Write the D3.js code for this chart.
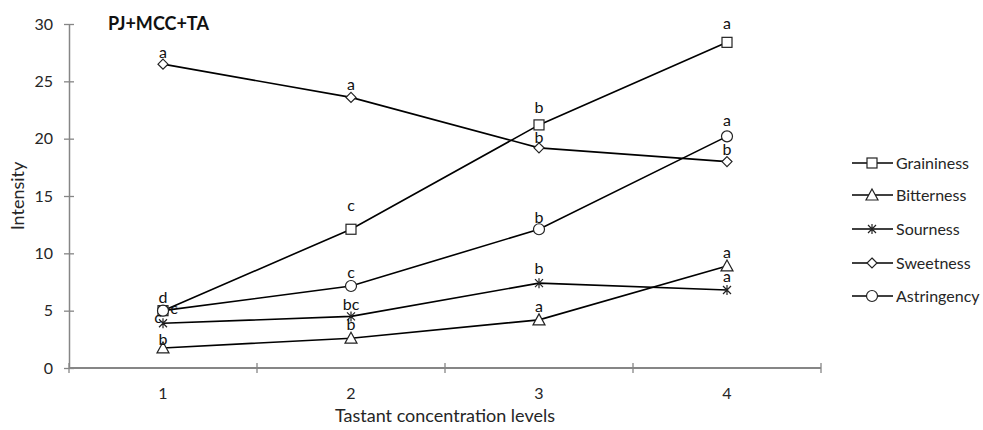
<!DOCTYPE html>
<html>
<head>
<meta charset="utf-8">
<script src="https://cdn.jsdelivr.net/npm/d3@7"></script>
<style>
  body { margin: 0; background: #fff; }
  svg text { font-family: Lato, "Open Sans", sans-serif; }
</style>
</head>
<body>
<svg id="chart" width="983" height="430"></svg>
<script>
// Tastant concentration levels (x categories)
const levels = ["1", "2", "3", "4"];
const yTicks = [0, 5, 10, 15, 20, 25, 30];

// Mean intensity per attribute
const graininess  = [5.0, 12.1, 21.2, 28.4];
const bitterness  = [1.75, 2.6, 4.2, 8.9];
const sourness    = [3.9, 4.5, 7.4, 6.8];
const sweetness   = [26.5, 23.6, 19.2, 18.0];
const astringency = [5.0, 7.15, 12.1, 20.2];

// Significance letters
const grainLetters  = ["d", "c", "b", "a"];
const bitterLetters = ["b", "b", "a", "a"];
const sourLetters   = ["c", "bc", "b", "a"];
const sweetLetters  = ["a", "a", "b", "b"];
const astrLetters   = ["c", "c", "b", "a"];

const series = [
  { name: "Graininess",  values: graininess,  letters: grainLetters,  marker: "square" },
  { name: "Bitterness",  values: bitterness,  letters: bitterLetters, marker: "triangle" },
  { name: "Sourness",    values: sourness,    letters: sourLetters,   marker: "star" },
  { name: "Sweetness",   values: sweetness,   letters: sweetLetters,  marker: "diamond" },
  { name: "Astringency", values: astringency, letters: astrLetters,   marker: "circle" }
];

// letter placement relative to each marker: [dx, baseline dy] per level
const labelPlacement = {
  "Graininess":  [[0, -8], [0, -18], [0, -12], [0, -13]],
  "Bitterness":  [[0, -3], [0, -8], [0, -8], [0, -8]],
  "Sourness":    [[-5, 0], [0, -6], [0, -9], [0, -8]],
  "Sweetness":   [[0, -6], [0, -7], [0, -5], [0, -7]],
  "Astringency": [[11, 3], [0, -8], [0, -6], [0, -10]]
};

const svg = d3.select("#chart");
const margin = { left: 69, right: 821, top: 24, bottom: 368 };

const x = d3.scaleBand().domain(levels).range([margin.left, margin.right]);
const y = d3.scaleLinear().domain([0, 30]).range([margin.bottom, margin.top]);
const cx = d => x(d) + x.bandwidth() / 2;

const axisColor = "#868686";
const textColor = "#262626";

// Y axis with crossing tick marks
const yAxis = svg.append("g")
  .attr("transform", `translate(${margin.left},0)`)
  .call(d3.axisLeft(y).tickValues(yTicks).tickSizeInner(5).tickSizeOuter(0).tickPadding(11));
yAxis.select(".domain").attr("stroke", axisColor).attr("stroke-width", 1.5);
yAxis.selectAll(".tick line").attr("stroke", axisColor).attr("stroke-width", 1.3).attr("x1", 5);
yAxis.selectAll(".tick text").attr("font-size", 16).attr("fill", textColor);

// X axis: tick marks at category boundaries
const xAxisG = svg.append("g").attr("transform", `translate(0,${margin.bottom})`);
xAxisG.append("line")
  .attr("x1", margin.left).attr("x2", margin.right)
  .attr("stroke", axisColor).attr("stroke-width", 2);
const bounds = levels.map(d => x(d)).concat([margin.right]);
xAxisG.selectAll("line.tk").data(bounds).join("line")
  .attr("class", "tk")
  .attr("x1", d => d).attr("x2", d => d).attr("y1", -5).attr("y2", 5)
  .attr("stroke", axisColor).attr("stroke-width", 1.3);
xAxisG.selectAll("text").data(levels).join("text")
  .attr("x", d => cx(d)).attr("y", 31)
  .attr("text-anchor", "middle").attr("font-size", 16).attr("fill", textColor)
  .text(d => d);

// Axis titles
svg.append("text")
  .attr("transform", `translate(24,${(margin.top + margin.bottom) / 2}) rotate(-90)`)
  .attr("text-anchor", "middle").attr("font-size", 18).attr("fill", textColor)
  .text("Intensity");
svg.append("text")
  .attr("x", (margin.left + margin.right) / 2).attr("y", 422)
  .attr("text-anchor", "middle").attr("font-size", 18).attr("fill", textColor)
  .text("Tastant concentration levels");

// Panel title
svg.append("text")
  .attr("x", 108).attr("y", 30)
  .attr("font-size", 18).attr("font-weight", "bold").attr("fill", "#111")
  .text("PJ+MCC+TA");

// Marker drawing
function drawMarker(g, type, px, py) {
  const st = { fill: "#fff", stroke: "#222", "stroke-width": 1.2 };
  let el;
  if (type === "square") {
    el = g.append("rect").attr("x", px - 5).attr("y", py - 5).attr("width", 10).attr("height", 10);
  } else if (type === "triangle") {
    el = g.append("path").attr("d", `M${px},${py - 6}L${px + 6},${py + 5}L${px - 6},${py + 5}Z`);
  } else if (type === "diamond") {
    el = g.append("path").attr("d", `M${px},${py - 5}L${px + 5},${py}L${px},${py + 5}L${px - 5},${py}Z`);
  } else if (type === "circle") {
    el = g.append("circle").attr("cx", px).attr("cy", py).attr("r", 5.5);
  } else {
    el = g.append("path").attr("d",
      `M${px - 4},${py - 4}L${px + 4},${py + 4}M${px + 4},${py - 4}L${px - 4},${py + 4}M${px},${py - 5}L${px},${py + 5}`);
    st.fill = "none";
  }
  Object.entries(st).forEach(([k, v]) => el.attr(k, v));
}

const line = d3.line().x(d => cx(d.level)).y(d => y(d.value));

// lines and markers first, then all letters on top
const groups = series.map(s => {
  const pts = s.values.map((v, i) => ({ level: levels[i], value: v }));
  const g = svg.append("g");
  g.append("path").datum(pts).attr("d", line)
    .attr("fill", "none").attr("stroke", "#000").attr("stroke-width", 1.6);
  pts.forEach(p => drawMarker(g, s.marker, cx(p.level), y(p.value)));
  return { s, pts };
});
const labels = svg.append("g");
groups.forEach(({ s, pts }) => {
  pts.forEach((p, i) => {
    const [dx, dy] = labelPlacement[s.name][i];
    labels.append("text")
      .attr("x", cx(p.level) + dx).attr("y", y(p.value) + dy)
      .attr("text-anchor", "middle").attr("font-size", 16).attr("fill", "#111")
      .text(s.letters[i]);
  });
});

// Legend
const legend = svg.append("g");
const legendY = [163, 195, 229, 263, 296];
series.forEach((s, i) => {
  const ly = legendY[i];
  legend.append("line").attr("x1", 852).attr("x2", 893).attr("y1", ly).attr("y2", ly)
    .attr("stroke", "#000").attr("stroke-width", 1.6);
  drawMarker(legend, s.marker, 872, ly);
  legend.append("text").attr("x", 896).attr("y", ly + 5.5)
    .attr("font-size", 16).attr("fill", textColor).text(s.name);
});
</script>
</body>
</html>
